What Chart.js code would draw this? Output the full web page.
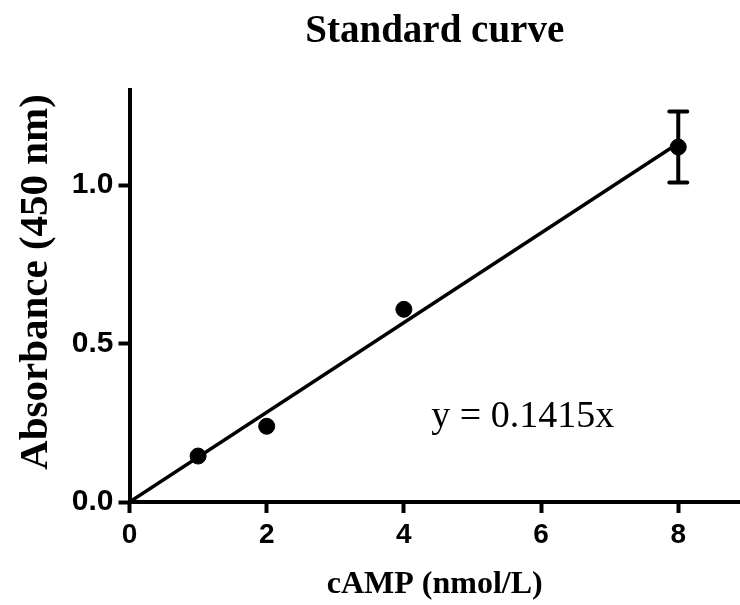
<!DOCTYPE html>
<html>
<head>
<meta charset="utf-8">
<script src="https://cdn.jsdelivr.net/npm/chart.js@4"></script>
<style>
  html, body { margin: 0; padding: 0; background: #fff; }
  #wrap { width: 740px; height: 605px; }
</style>
</head>
<body>
<div id="wrap"><canvas id="curve"></canvas></div>
<script>
// 표준곡선 데이터
const concX = [1, 2, 4, 8];
const absY = [0.145, 0.239, 0.608, 1.12];
const absErr = [0, 0, 0, 0.112];
const fitX = [0, 8];
const fitY = [0, 1.132];
const xTicks = [0, 2, 4, 6, 8];
const yTicks = [0, 0.5, 1.0];
const fitLabel = "y = 0.1415x";
const yTitle = "Absorbance (450 nm)";

const serif = "'Liberation Serif', 'Times New Roman', serif";
const sans = "'Liberation Sans', Arial, sans-serif";

// 오차막대 그리기
const errorBars = {
  id: "errorBars",
  afterDatasetsDraw(chart) {
    const ctx = chart.ctx;
    const xs = chart.scales.x;
    const ys = chart.scales.y;
    ctx.save();
    ctx.strokeStyle = "#000";
    ctx.lineWidth = 4;
    ctx.lineCap = "round";
    concX.forEach((x, i) => {
      if (!absErr[i]) return;
      const px = xs.getPixelForValue(x);
      const top = ys.getPixelForValue(absY[i] + absErr[i]);
      const bot = ys.getPixelForValue(absY[i] - absErr[i]);
      ctx.beginPath();
      ctx.moveTo(px, top);
      ctx.lineTo(px, bot);
      ctx.moveTo(px - 9, top);
      ctx.lineTo(px + 9, top);
      ctx.moveTo(px - 9, bot);
      ctx.lineTo(px + 9, bot);
      ctx.stroke();
    });
    ctx.restore();
  },
};

// 회귀식 텍스트 + 세로축 제목
const extraText = {
  id: "extraText",
  afterDraw(chart) {
    const ctx = chart.ctx;
    ctx.save();
    ctx.fillStyle = "#000";
    ctx.font = "38px " + serif;
    ctx.textAlign = "left";
    ctx.textBaseline = "alphabetic";
    ctx.fillText(fitLabel, chart.scales.x.getPixelForValue(4.4), chart.scales.y.getPixelForValue(0.236));

    // 세로축 제목 (조금 위쪽에 위치)
    ctx.translate(36, 282);
    ctx.rotate(-Math.PI / 2);
    ctx.font = "bold 41px " + serif;
    ctx.textAlign = "center";
    ctx.textBaseline = "middle";
    ctx.fillText(yTitle, 0, 0);
    ctx.restore();
  },
};

const ctx = document.getElementById("curve").getContext("2d");
const chart = new Chart(ctx, {
  type: "scatter",
  data: {
    datasets: [
      {
        label: "fit",
        data: fitX.map((x, i) => ({ x: x, y: fitY[i] })),
        showLine: true,
        borderColor: "#000",
        borderWidth: 3.5,
        pointRadius: 0,
        fill: false,
      },
      {
        label: "standard",
        data: concX.map((x, i) => ({ x: x, y: absY[i] })),
        backgroundColor: "#000",
        borderColor: "#000",
        pointRadius: 8,
        pointHoverRadius: 8,
      },
    ],
  },
  options: {
    responsive: true,
    maintainAspectRatio: false,
    animation: false,
    layout: { padding: 0, autoPadding: false },
    plugins: {
      legend: { display: false },
      tooltip: { enabled: false },
      title: {
        display: true,
        text: "Standard curve",
        fullSize: false,
        color: "#000",
        font: { family: serif, size: 39, weight: "bold", lineHeight: 1.2 },
        padding: { top: 9, bottom: 34.2 },
      },
    },
    scales: {
      x: {
        type: "linear",
        min: 0,
        max: 8.9,
        afterFit: (s) => { s.height = 103; },
        afterBuildTicks: (s) => { s.ticks = xTicks.map((v) => ({ value: v })); },
        border: { display: true, color: "#000", width: 4 },
        grid: { drawOnChartArea: false, drawTicks: true, tickLength: 11, tickWidth: 4, tickColor: "#000" },
        ticks: {
          color: "#000",
          padding: 5,
          font: { family: sans, size: 28, weight: "bold" },
          callback: (v) => String(v),
        },
        title: {
          display: true,
          text: "cAMP (nmol/L)",
          color: "#000",
          font: { family: serif, size: 32, weight: "bold", lineHeight: 1.2 },
          padding: { top: 0, bottom: 1 },
        },
      },
      y: {
        type: "linear",
        min: 0,
        max: 1.3,
        afterFit: (s) => { s.width = 129.5; },
        afterBuildTicks: (s) => { s.ticks = yTicks.map((v) => ({ value: v })); },
        border: { display: true, color: "#000", width: 4 },
        grid: { drawOnChartArea: false, drawTicks: true, tickLength: 11, tickWidth: 4, tickColor: "#000" },
        ticks: {
          color: "#000",
          padding: 5,
          font: { family: sans, size: 30, weight: "bold" },
          callback: (v) => Number(v).toFixed(1),
        },
        title: { display: false },
      },
    },
  },
  plugins: [errorBars, extraText],
});
</script>
</body>
</html>
